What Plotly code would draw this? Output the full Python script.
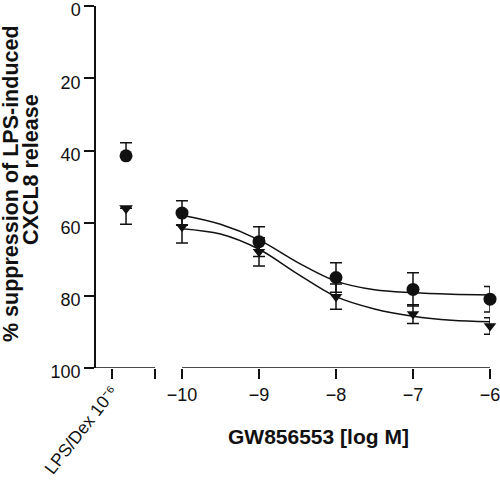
import plotly.graph_objects as go

# ---- data ----
log_conc = [-10, -9, -8, -7, -6]
tick_text = ["−10", "−9", "−8", "−7", "−6"]

# LPS/Dex 10^-6 control values
lps_circle = 41.4
lps_circle_err = 3.6
lps_tri = 55.9
lps_tri_err = 4.4

circle_vals = [57.2, 65.1, 75.0, 78.3, 81.0]
circle_err = [3.4, 4.1, 4.1, 4.6, 3.5]
tri_vals = [61.0, 67.9, 80.3, 85.1, 88.4]
tri_err = [4.5, 3.9, 3.5, 2.6, 2.3]

# fitted curves
curve_x = [-10, -9.5, -9, -8.5, -8, -7.5, -7, -6.5, -6]
curve_circle = [57.8, 60.3, 64.6, 70.8, 76.0, 78.4, 79.2, 79.6, 79.8]
curve_tri = [61.5, 63.0, 67.2, 74.0, 80.3, 83.7, 85.7, 86.8, 87.2]

y_ticks = [0, 20, 40, 60, 80, 100]

# ---- layout positions (axis coordinates) ----
X_MIN = -11.117
LPS_TICK = -10.909
LPS_X = -10.727
LEFT_END = -10.35

FONT = "Liberation Sans, Arial, sans-serif"
BLACK = "#111111"

fig = go.Figure()

# curves
for cy in (curve_circle, curve_tri):
    fig.add_trace(go.Scatter(x=curve_x, y=cy, mode="lines", line=dict(color=BLACK, width=1.5, shape="spline"),
                             hoverinfo="skip", showlegend=False, cliponaxis=False))

err_style = dict(type="data", color=BLACK, thickness=1.5, width=6)

# one-sided error bars for the LPS/Dex control (half-length bar centred mid-way)
fig.add_trace(go.Scatter(x=[LPS_X], y=[lps_circle - lps_circle_err / 2], mode="markers",
                         marker=dict(size=1, opacity=0), showlegend=False, hoverinfo="skip", cliponaxis=False,
                         error_y=dict(array=[lps_circle_err / 2], **err_style)))
fig.add_trace(go.Scatter(x=[LPS_X], y=[lps_tri + lps_tri_err / 2], mode="markers",
                         marker=dict(size=1, opacity=0), showlegend=False, hoverinfo="skip", cliponaxis=False,
                         error_y=dict(array=[lps_tri_err / 2], **err_style)))

# concentration series
fig.add_trace(go.Scatter(
    x=log_conc, y=circle_vals, mode="markers",
    marker=dict(symbol="circle", size=13, color=BLACK),
    error_y=dict(array=circle_err, **err_style), cliponaxis=False, showlegend=False))
fig.add_trace(go.Scatter(
    x=log_conc, y=tri_vals, mode="markers",
    marker=dict(symbol="triangle-down", size=11, color=BLACK),
    error_y=dict(array=tri_err, **err_style), cliponaxis=False, showlegend=False))

# control markers
fig.add_trace(go.Scatter(x=[LPS_X], y=[lps_circle], mode="markers",
                         marker=dict(symbol="circle", size=13, color=BLACK), cliponaxis=False, showlegend=False))
fig.add_trace(go.Scatter(x=[LPS_X], y=[lps_tri], mode="markers",
                         marker=dict(symbol="triangle-down", size=12, color=BLACK), cliponaxis=False, showlegend=False))

# broken x-axis segments
shapes = [
    dict(type="line", xref="x", yref="y", x0=X_MIN, x1=LEFT_END, y0=100, y1=100, line=dict(color=BLACK, width=1.5)),
    dict(type="line", xref="x", yref="y", x0=log_conc[0], x1=log_conc[-1], y0=100, y1=100, line=dict(color=BLACK, width=1.5)),
]

annotations = [
    dict(text="GW856553 [log M]", xref="paper", yref="paper", x=0.5635, y=-0.188, showarrow=False,
         font=dict(family=FONT, size=21, color=BLACK, weight="bold"), xanchor="center", yanchor="middle"),
    dict(text="% suppression of LPS-induced", xref="paper", yref="paper", x=(11 - 96) / 394, y=(368 - 184) / 362,
         textangle=-90, showarrow=False, font=dict(family=FONT, size=21.5, color=BLACK, weight="bold"),
         xanchor="center", yanchor="middle"),
    dict(text="CXCL8 release", xref="paper", yref="paper", x=(31 - 96) / 394, y=(368 - 170) / 362,
         textangle=-90, showarrow=False, font=dict(family=FONT, size=21.5, color=BLACK, weight="bold"),
         xanchor="center", yanchor="middle"),
    dict(text="LPS/Dex 10⁻⁶", xref="paper", yref="paper", x=(81 - 96) / 394, y=(368 - 430) / 362,
         textangle=-52, showarrow=False, font=dict(family=FONT, size=17.5, color=BLACK),
         xanchor="center", yanchor="middle"),
]

fig.update_layout(
    width=500, height=481,
    template="none",
    margin=dict(l=96, r=10, t=6, b=113, autoexpand=False),
    paper_bgcolor="white", plot_bgcolor="white",
    font=dict(family=FONT, size=17, color=BLACK),
    shapes=shapes, annotations=annotations,
    xaxis=dict(range=[X_MIN, -6], showline=False, showgrid=False, zeroline=False, automargin=False,
               tickmode="array", tickvals=[LPS_TICK, LEFT_END] + log_conc, ticktext=["", ""] + tick_text,
               ticks="outside", ticklen=10, tickwidth=1.5, tickcolor=BLACK, ticklabeloverflow="allow",
               tickfont=dict(family=FONT, size=18, color=BLACK)),
    yaxis=dict(range=[100, 0], showline=True, linecolor=BLACK, linewidth=1.5, showgrid=False, zeroline=False,
               automargin=False, ticklabeloverflow="allow", ticklabelshift=-4,
               tickmode="array", tickvals=y_ticks, ticks="outside", ticklen=10, tickwidth=1.5, tickcolor=BLACK,
               tickfont=dict(family=FONT, size=18, color=BLACK)),
)

fig.write_html("out.html", config={"displayModeBar": False},
               post_script="document.body.style.margin='0';document.body.style.overflow='hidden';")
